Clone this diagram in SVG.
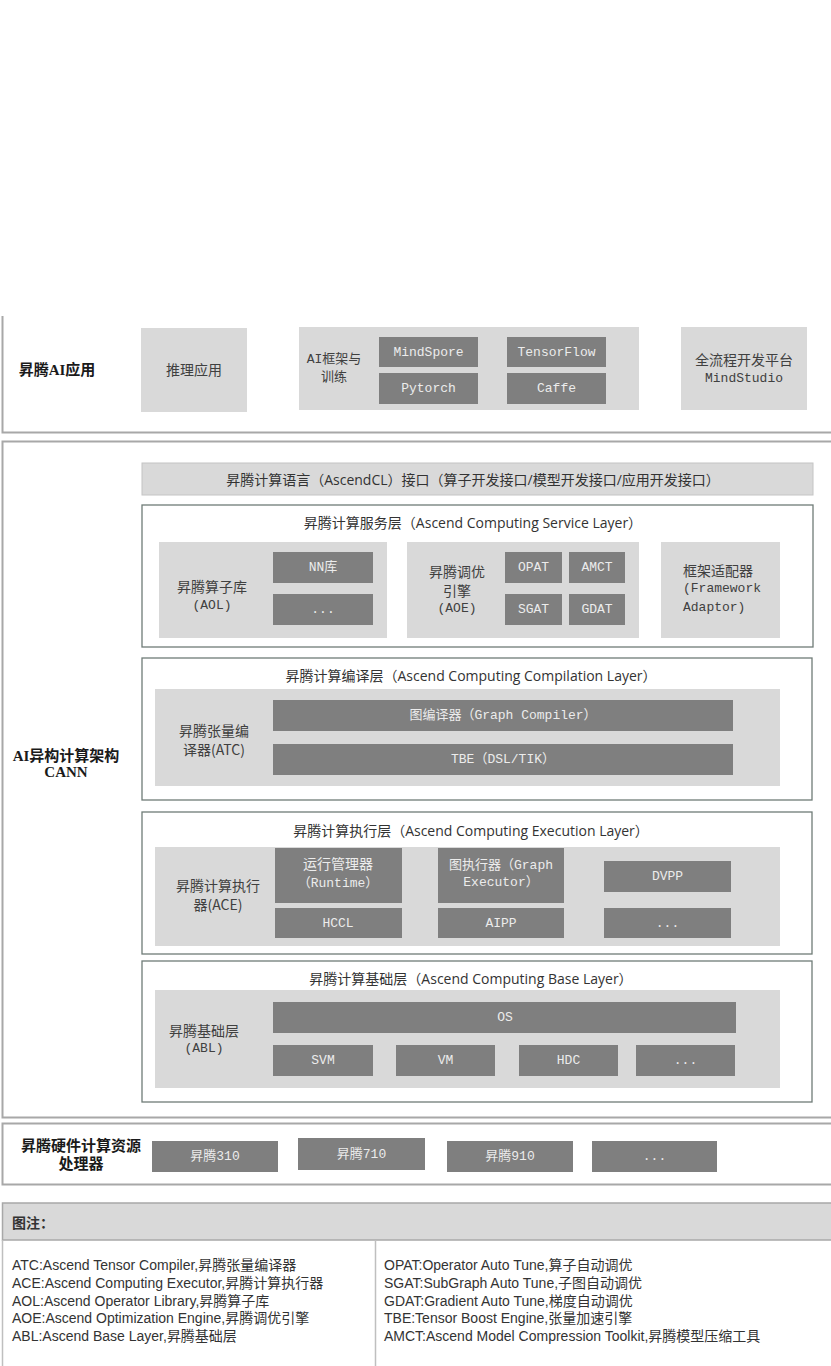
<svg xmlns="http://www.w3.org/2000/svg" width="831" height="1366" viewBox="0 0 831 1366">
<style>
.sec{fill:none;stroke:#a8a8a8;stroke-width:2}
.lay{fill:#ffffff;stroke:#6f7c77;stroke-width:1.3}
.lt{fill:#d9d9d9}
.dk{fill:#7f7f7f}
text{dominant-baseline:central}
.bl{font-family:"Liberation Serif","Noto Sans CJK SC",serif;font-weight:bold;font-size:15px;fill:#1a1a1a;text-anchor:middle}
.tt{font-family:"Open Sans","Noto Sans CJK SC",sans-serif;font-size:14px;fill:#333333;text-anchor:middle}
.lb{font-family:"Liberation Mono","Noto Sans CJK SC",monospace;font-size:13px;fill:#404040;text-anchor:middle}
.lbc{font-family:"Noto Sans CJK SC",sans-serif;font-size:14px;fill:#404040;text-anchor:middle}
.st{text-anchor:start}
.dt{font-family:"Liberation Mono","Noto Sans CJK SC",monospace;font-size:13px;fill:#ececec;text-anchor:middle}
.lg{font-family:"Liberation Sans","Noto Sans CJK SC",sans-serif;font-size:14px;fill:#333333}
</style>

<g id="app-section">
<path class="sec" d="M2.5,316 V432.5 H831"/>
<text class="bl" x="57" y="370">昇腾AI应用</text>
</g>
<g id="infer-app">
<rect class="lt" x="141" y="328" width="106" height="84"/>
<text class="lbc" x="194" y="369">推理应用</text>
</g>
<g id="ai-framework">
<rect class="lt" x="299" y="327" width="340" height="83"/>
<text class="lb" x="334" y="359">AI框架与</text>
<text class="lb" x="334" y="377">训练</text>
</g>
<g id="mindspore"><rect class="dk" x="379" y="337" width="99" height="30"/><text class="dt" x="428.5" y="352">MindSpore</text></g>
<g id="pytorch"><rect class="dk" x="379" y="373" width="99" height="31"/><text class="dt" x="428.5" y="388.5">Pytorch</text></g>
<g id="tensorflow"><rect class="dk" x="507" y="337" width="99" height="30"/><text class="dt" x="556.5" y="352">TensorFlow</text></g>
<g id="caffe"><rect class="dk" x="507" y="373" width="99" height="31"/><text class="dt" x="556.5" y="388.5">Caffe</text></g>
<g id="mindstudio">
<rect class="lt" x="681" y="327" width="126" height="83"/>
<text class="lbc" x="744" y="359">全流程开发平台</text>
<text class="lb" x="744" y="378">MindStudio</text>
</g>

<g id="cann-section">
<path class="sec" d="M831,441.5 H2.5 V1117.5 H831"/>
<text class="bl" x="66" y="756">AI异构计算架构</text>
<text class="bl" x="66" y="772">CANN</text>
</g>
<g id="ascendcl">
<rect class="lt" x="142" y="463" width="671" height="32" stroke="#c4c4c4" stroke-width="1"/>
<text class="tt" x="473" y="479">昇腾计算语言（AscendCL）接口（算子开发接口/模型开发接口/应用开发接口）</text>
</g>

<g id="service-layer">
<rect class="lay" x="142" y="505" width="671" height="142"/>
<text class="tt" x="473" y="522">昇腾计算服务层（Ascend Computing Service Layer）</text>
</g>
<g id="aol">
<rect class="lt" x="159" y="542" width="228" height="96"/>
<text class="lbc" x="212" y="586">昇腾算子库</text>
<text class="lb" x="212" y="605">(AOL)</text>
</g>
<g id="nn-lib"><rect class="dk" x="273" y="552" width="100" height="31"/><text class="dt" x="323" y="567">NN库</text></g>
<g id="aol-more"><rect class="dk" x="273" y="594" width="100" height="31"/><text class="dt" x="323" y="609">...</text></g>
<g id="aoe">
<rect class="lt" x="407" y="542" width="232" height="96"/>
<text class="lbc" x="457" y="571">昇腾调优</text>
<text class="lbc" x="457" y="590">引擎</text>
<text class="lb" x="457" y="608">(AOE)</text>
</g>
<g id="opat"><rect class="dk" x="505" y="552" width="57" height="31"/><text class="dt" x="533.5" y="567">OPAT</text></g>
<g id="amct"><rect class="dk" x="569" y="552" width="56" height="31"/><text class="dt" x="597" y="567">AMCT</text></g>
<g id="sgat"><rect class="dk" x="505" y="594" width="57" height="31"/><text class="dt" x="533.5" y="609">SGAT</text></g>
<g id="gdat"><rect class="dk" x="569" y="594" width="56" height="31"/><text class="dt" x="597" y="609">GDAT</text></g>
<g id="framework-adaptor">
<rect class="lt" x="661" y="542" width="119" height="96"/>
<text class="lbc st" x="683" y="570">框架适配器</text>
<text class="lb st" x="683" y="588">(Framework</text>
<text class="lb st" x="683" y="607">Adaptor)</text>
</g>

<g id="compilation-layer">
<rect class="lay" x="142" y="658" width="670" height="142"/>
<text class="tt" x="471" y="675">昇腾计算编译层（Ascend Computing Compilation Layer）</text>
</g>
<g id="atc">
<rect class="lt" x="155" y="689" width="625" height="97"/>
<text class="lbc" x="214" y="730">昇腾张量编</text>
<text class="lbc" x="214" y="749">译器(ATC)</text>
</g>
<g id="graph-compiler"><rect class="dk" x="273" y="700" width="460" height="31"/><text class="dt" x="503" y="715">图编译器（Graph Compiler）</text></g>
<g id="tbe"><rect class="dk" x="273" y="744" width="460" height="31"/><text class="dt" x="503" y="759">TBE（DSL/TIK）</text></g>

<g id="execution-layer">
<rect class="lay" x="142" y="812" width="670" height="142"/>
<text class="tt" x="471" y="830">昇腾计算执行层（Ascend Computing Execution Layer）</text>
</g>
<g id="ace">
<rect class="lt" x="155" y="847" width="625" height="99"/>
<text class="lbc" x="218" y="885">昇腾计算执行</text>
<text class="lbc" x="218" y="904">器(ACE)</text>
</g>
<g id="runtime"><rect class="dk" x="275" y="848" width="127" height="55"/><text class="dt" x="338" y="865" style="font-size:14px">运行管理器</text><text class="dt" x="338" y="883">（Runtime）</text></g>
<g id="hccl"><rect class="dk" x="275" y="908" width="127" height="30"/><text class="dt" x="338" y="923">HCCL</text></g>
<g id="graph-executor"><rect class="dk" x="438" y="848" width="126" height="55"/><text class="dt" x="501" y="865">图执行器（Graph</text><text class="dt" x="501" y="882">Executor）</text></g>
<g id="aipp"><rect class="dk" x="438" y="908" width="126" height="30"/><text class="dt" x="501" y="923">AIPP</text></g>
<g id="dvpp"><rect class="dk" x="604" y="861" width="127" height="31"/><text class="dt" x="667.5" y="876">DVPP</text></g>
<g id="ace-more"><rect class="dk" x="604" y="908" width="127" height="30"/><text class="dt" x="667.5" y="923">...</text></g>

<g id="base-layer">
<rect class="lay" x="142" y="961" width="670" height="141"/>
<text class="tt" x="471" y="978">昇腾计算基础层（Ascend Computing Base Layer）</text>
</g>
<g id="abl">
<rect class="lt" x="155" y="990" width="625" height="98"/>
<text class="lbc" x="204" y="1030">昇腾基础层</text>
<text class="lb" x="204" y="1048">(ABL)</text>
</g>
<g id="os"><rect class="dk" x="273" y="1002" width="463" height="31"/><text class="dt" x="505" y="1017">OS</text></g>
<g id="svm"><rect class="dk" x="273" y="1045" width="100" height="31"/><text class="dt" x="323" y="1060">SVM</text></g>
<g id="vm"><rect class="dk" x="396" y="1045" width="99" height="31"/><text class="dt" x="445.5" y="1060">VM</text></g>
<g id="hdc"><rect class="dk" x="519" y="1045" width="99" height="31"/><text class="dt" x="568.5" y="1060">HDC</text></g>
<g id="abl-more"><rect class="dk" x="636" y="1045" width="99" height="31"/><text class="dt" x="685.5" y="1060">...</text></g>

<g id="hardware-section">
<path class="sec" d="M831,1123.5 H2.5 V1184.5 H831"/>
<text class="bl" x="81" y="1146">昇腾硬件计算资源</text>
<text class="bl" x="81" y="1164">处理器</text>
</g>
<g id="ascend310"><rect class="dk" x="152" y="1141" width="126" height="31"/><text class="dt" x="215" y="1156">昇腾310</text></g>
<g id="ascend710"><rect class="dk" x="298" y="1138" width="127" height="32"/><text class="dt" x="361.5" y="1154">昇腾710</text></g>
<g id="ascend910"><rect class="dk" x="447" y="1141" width="126" height="31"/><text class="dt" x="510" y="1156">昇腾910</text></g>
<g id="ascend-more"><rect class="dk" x="592" y="1141" width="125" height="31"/><text class="dt" x="654.5" y="1156">...</text></g>

<g id="legend">
<rect x="2.5" y="1203" width="840" height="37" fill="#d9d9d9" stroke="#a8a8a8" stroke-width="1.5"/>
<path d="M2.5,1240 V1366 M375.5,1240 V1366" stroke="#bfbfbf" stroke-width="1.5" fill="none"/>
<text x="12" y="1222" style="font-family:'Noto Sans CJK SC',sans-serif;font-weight:bold;font-size:14px;fill:#333">图注：</text>
<text class="lg" x="12" y="1265">ATC:Ascend Tensor Compiler,昇腾张量编译器</text>
<text class="lg" x="12" y="1283">ACE:Ascend Computing Executor,昇腾计算执行器</text>
<text class="lg" x="12" y="1301">AOL:Ascend Operator Library,昇腾算子库</text>
<text class="lg" x="12" y="1318">AOE:Ascend Optimization Engine,昇腾调优引擎</text>
<text class="lg" x="12" y="1336">ABL:Ascend Base Layer,昇腾基础层</text>
<text class="lg" x="384" y="1265">OPAT:Operator Auto Tune,算子自动调优</text>
<text class="lg" x="384" y="1283">SGAT:SubGraph Auto Tune,子图自动调优</text>
<text class="lg" x="384" y="1301">GDAT:Gradient Auto Tune,梯度自动调优</text>
<text class="lg" x="384" y="1318">TBE:Tensor Boost Engine,张量加速引擎</text>
<text class="lg" x="384" y="1336">AMCT:Ascend Model Compression Toolkit,昇腾模型压缩工具</text>
</g>
</svg>
